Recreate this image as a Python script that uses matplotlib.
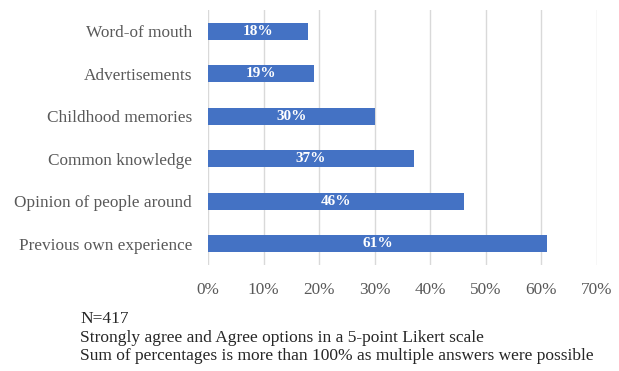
import matplotlib.pyplot as plt
from matplotlib.ticker import PercentFormatter

plt.rcParams['font.family'] = ['Liberation Serif', 'DejaVu Serif']

# sources of information, top to bottom
sources = ['Word-of mouth', 'Advertisements', 'Childhood memories',
           'Common knowledge', 'Opinion of people around', 'Previous own experience']
shares = [18, 19, 30, 37, 46, 61]

notes = ['N=417',
         'Strongly agree and Agree options in a 5-point Likert scale',
         'Sum of percentages is more than 100% as multiple answers were possible']

fig = plt.figure(figsize=(6.19, 3.71), dpi=100)
ax = fig.add_axes([0.336, 0.286, 0.6285, 0.687])

ypos = list(range(len(sources)))
bars = ax.barh(ypos, [v / 100 for v in shares], height=0.4, color='#4472C4', zorder=3)
for b, v in zip(bars, shares):
    ax.text(b.get_width() / 2, b.get_y() + b.get_height() / 2, f'{v}%',
            ha='center', va='center', color='white', fontweight='bold', fontsize=11, zorder=4)

ax.set_yticks(ypos)
ax.set_yticklabels(sources)
ax.set_ylim(5.5, -0.5)
ax.set_xlim(0, 0.7)
ax.set_xticks([i / 10 for i in range(8)])
ax.xaxis.set_major_formatter(PercentFormatter(1.0, decimals=0))
ax.grid(axis='x', color='#d9d9d9', linewidth=1, zorder=0)
for s in ax.spines.values():
    s.set_visible(False)
ax.tick_params(length=0, labelcolor='#595959', labelsize=12.4)
ax.tick_params(axis='y', pad=11.5)
ax.tick_params(axis='x', pad=12)

for i, line in enumerate(notes):
    fig.text(80 / 619, 1 - (319 + i * 18.5) / 371, line, fontsize=12.5, color='#262626', va='center')

fig.savefig('out.png', dpi=100)
